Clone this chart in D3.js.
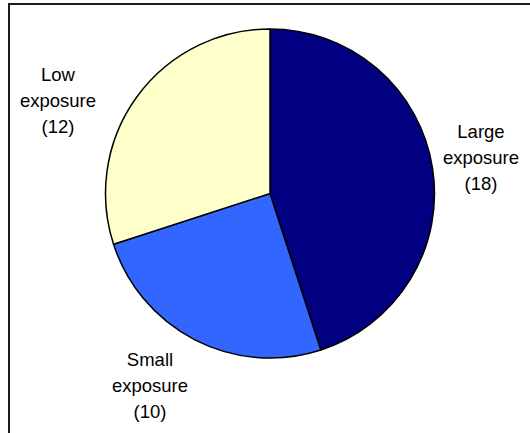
<!DOCTYPE html>
<html>
<head>
<meta charset="utf-8">
<script src="https://cdn.jsdelivr.net/npm/d3@7/dist/d3.min.js"></script>
<style>
  html, body { margin: 0; padding: 0; background: #fff; }
  svg { display: block; }
  text { font-family: "Liberation Sans", Arial, sans-serif; }
</style>
</head>
<body>
<svg id="chart" width="530" height="433"></svg>
<script>
// Data
const categories = ["Large exposure", "Small exposure", "Low exposure"];
const values = [18, 10, 12];
const colors = ["#000080", "#3366FF", "#FFFFCC"];

// Layout (label anchors: [x, y] centre of the 3-line label block)
const layout = {
  cx: 270, cy: 193.5, r: 164.5,
  labelPos: [[481, 158], [150, 386], [58, 101]],
  lineGap: 26, fontSize: 18.5
};

const svg = d3.select("#chart");

// Frame (top and left edges visible)
svg.append("line").attr("x1", 8).attr("x2", 530).attr("y1", 4).attr("y2", 4)
  .attr("stroke", "#1a1a1a").attr("stroke-width", 2);
svg.append("line").attr("x1", 9).attr("x2", 9).attr("y1", 3).attr("y2", 433)
  .attr("stroke", "#1a1a1a").attr("stroke-width", 2);

const pie = d3.pie().sort(null).value(d => d)
  .startAngle(0).endAngle(2 * Math.PI);
const arcs = pie(values);
const arc = d3.arc().innerRadius(0).outerRadius(layout.r);

const g = svg.append("g").attr("transform", `translate(${layout.cx},${layout.cy})`);
g.selectAll("path").data(arcs).join("path")
  .attr("d", arc)
  .attr("fill", (d, i) => colors[i])
  .attr("stroke", "#000")
  .attr("stroke-width", 1.5)
  .attr("stroke-linejoin", "round");

// Labels
categories.forEach((c, i) => {
  const words = c.split(" ");
  const lines = [words[0], words.slice(1).join(" "), `(${values[i]})`];
  const [x, y] = layout.labelPos[i];
  const t = svg.append("text")
    .attr("text-anchor", "middle")
    .attr("font-size", layout.fontSize)
    .attr("fill", "#000");
  lines.forEach((ln, k) => {
    t.append("tspan")
      .attr("x", x)
      .attr("y", y + (k - 1) * layout.lineGap)
      .attr("dy", "0.35em")
      .text(ln);
  });
});
</script>
</body>
</html>
